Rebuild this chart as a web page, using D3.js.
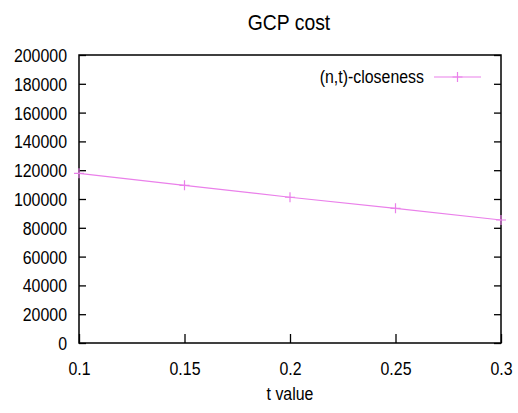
<!DOCTYPE html>
<html>
<head>
<meta charset="utf-8">
<script src="https://cdn.jsdelivr.net/npm/d3@7"></script>
<style>
body { margin: 0; background: #fff; }
text { font-family: "Liberation Sans", Arial, Helvetica, sans-serif; fill: #000; }
</style>
</head>
<body>
<div id="graph"></div>
<script>
WIDTH = 518;
HEIGHT = 413;

// data
var tValues = [0.1, 0.15, 0.2, 0.25, 0.3];
var gcpCost = [117800, 109500, 101200, 93500, 85400];
var xTicks = [0.1, 0.15, 0.2, 0.25, 0.3];
var yTicks = [0, 20000, 40000, 60000, 80000, 100000, 120000, 140000, 160000, 180000, 200000];
var seriesName = "(n,t)-closeness";
var LINE_COLOR = "#ea80ea";
var SQUEEZE = 0.86; // gnuplot's helvetica is narrower than Liberation Sans

var m = {left: 79, right: 501, top: 55, bottom: 343};

var x = d3.scaleLinear().domain([0.1, 0.3]).range([m.left, m.right]);
var y = d3.scaleLinear().domain([0, 200000]).range([m.bottom, m.top]);

var svg = d3.select("#graph").append("svg").attr("width", WIDTH).attr("height", HEIGHT);

// title
svg.append("text").attr("x", 289).attr("y", 30).attr("text-anchor", "middle")
	.style("font-size", "22.5px").text("GCP cost");

// axes (ticks point inward, like gnuplot)
var yAxisL = d3.axisLeft(y).tickValues(yTicks).tickSize(-7).tickPadding(12).tickFormat(d3.format("d"));
var yAxisR = d3.axisRight(y).tickValues(yTicks).tickSize(-7).tickFormat("");
var xAxisB = d3.axisBottom(x).tickValues(xTicks).tickSize(-9).tickPadding(19).tickFormat(function(d) { return String(d); });

var gl = svg.append("g").attr("transform", "translate(" + m.left + ",0)").call(yAxisL);
var gr = svg.append("g").attr("transform", "translate(" + m.right + ",0)").call(yAxisR);
var gb = svg.append("g").attr("transform", "translate(0," + m.bottom + ")").call(xAxisB);

[gl, gr, gb].forEach(function(g) {
	g.select(".domain").remove();
	g.selectAll("line").attr("stroke", "#000").attr("stroke-width", 1.3);
	g.selectAll("text").style("font-size", "18.5px").attr("fill", "#000");
});
gl.selectAll("text").attr("dy", "0.35em");
gb.selectAll("text").attr("dy", "0.71em");

// border
svg.append("rect").attr("x", m.left).attr("y", m.top)
	.attr("width", m.right - m.left).attr("height", m.bottom - m.top)
	.attr("fill", "none").attr("stroke", "#000").attr("stroke-width", 1.5);

// x label
svg.append("text").attr("x", 290).attr("y", 400).attr("text-anchor", "middle")
	.style("font-size", "18.5px").text("t value");

// series
var pts = tValues.map(function(t, i) { return [t, gcpCost[i]]; });
var line = d3.line().x(function(d) { return x(d[0]); }).y(function(d) { return y(d[1]); });

svg.append("path").datum(pts).attr("d", line)
	.attr("fill", "none").attr("stroke", LINE_COLOR).attr("stroke-width", 1.2);

function plus(g, cx, cy) {
	g.append("path").attr("d", "M" + (cx - 5) + "," + cy + "H" + (cx + 5) + "M" + cx + "," + (cy - 5) + "V" + (cy + 5))
		.attr("stroke", LINE_COLOR).attr("stroke-width", 1.2).attr("fill", "none");
}
var mk = svg.append("g");
pts.forEach(function(d) { plus(mk, x(d[0]), y(d[1])); });

// legend
var lg = svg.append("g");
lg.append("text").attr("x", 424).attr("y", 77).attr("dy", "0.35em").attr("text-anchor", "end")
	.style("font-size", "18.5px").text(seriesName);
lg.append("line").attr("x1", 434).attr("x2", 481).attr("y1", 77).attr("y2", 77)
	.attr("stroke", LINE_COLOR).attr("stroke-width", 1.2);
plus(lg, 457.5, 77);

// squeeze all text horizontally around its anchor
svg.selectAll("text").each(function() {
	var t = d3.select(this);
	var tx = +t.attr("x") || 0, ty = +t.attr("y") || 0;
	t.attr("x", 0).attr("y", 0)
		.attr("transform", "translate(" + tx + "," + ty + ") scale(" + SQUEEZE + ",1)");
});
</script>
</body>
</html>
